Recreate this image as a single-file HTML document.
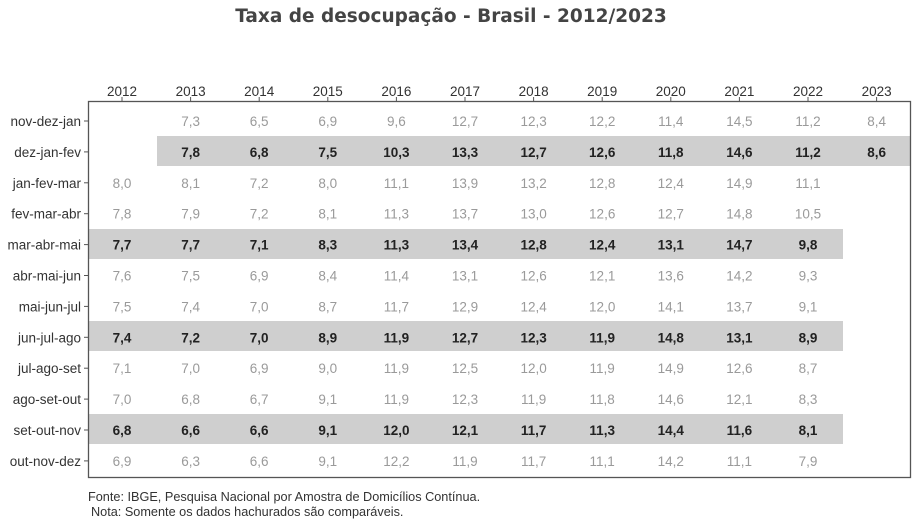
<!DOCTYPE html>
<html><head><meta charset="utf-8"><style>body{margin:0;background:#fff}svg{display:block}</style></head><body>
<svg width="921" height="528" xmlns="http://www.w3.org/2000/svg" font-family="Liberation Sans, Arial, sans-serif">
<text x="451" y="22" text-anchor="middle" font-size="18.5" font-weight="bold" fill="#444" font-family="DejaVu Sans, sans-serif">Taxa de desocupação - Brasil - 2012/2023</text>
<g fill="#cfcfcf">
<rect x="157" y="136" width="754" height="30"/>
<rect x="89" y="229" width="754" height="30"/>
<rect x="89" y="321" width="754" height="30"/>
<rect x="89" y="414" width="754" height="30"/>
</g>
<rect x="88.5" y="101.5" width="822" height="376" fill="none" stroke="#555" stroke-width="1.3"/>
<g id="hdr" font-size="13.5" fill="#333" text-anchor="middle"></g>
<g id="rows" font-size="13.5"></g>
<text x="88" y="501" font-size="12.7" fill="#333">Fonte: IBGE, Pesquisa Nacional por Amostra de Domicílios Contínua.</text>
<text x="91" y="516" font-size="12.7" fill="#333">Nota: Somente os dados hachurados são comparáveis.</text>
<script>
var ns="http://www.w3.org/2000/svg";
function el(p,t,a,txt){var e=document.createElementNS(ns,t);for(var k in a)e.setAttribute(k,a[k]);if(txt!=null)e.textContent=txt;p.appendChild(e);return e;}
var svg=document.querySelector('svg');
var hdr=document.getElementById('hdr'),rows=document.getElementById('rows');
function cx(i){return 122+i*68.6;}
for(var i=0;i<12;i++){el(hdr,'text',{x:cx(i),y:96},2012+i);el(svg,'line',{x1:cx(i),x2:cx(i),y1:97,y2:101,stroke:'#555'});}
var labels=["nov-dez-jan","dez-jan-fev","jan-fev-mar","fev-mar-abr","mar-abr-mai","abr-mai-jun","mai-jun-jul","jun-jul-ago","jul-ago-set","ago-set-out","set-out-nov","out-nov-dez"];
var data=[
["","7,3","6,5","6,9","9,6","12,7","12,3","12,2","11,4","14,5","11,2","8,4"],
["","7,8","6,8","7,5","10,3","13,3","12,7","12,6","11,8","14,6","11,2","8,6"],
["8,0","8,1","7,2","8,0","11,1","13,9","13,2","12,8","12,4","14,9","11,1",""],
["7,8","7,9","7,2","8,1","11,3","13,7","13,0","12,6","12,7","14,8","10,5",""],
["7,7","7,7","7,1","8,3","11,3","13,4","12,8","12,4","13,1","14,7","9,8",""],
["7,6","7,5","6,9","8,4","11,4","13,1","12,6","12,1","13,6","14,2","9,3",""],
["7,5","7,4","7,0","8,7","11,7","12,9","12,4","12,0","14,1","13,7","9,1",""],
["7,4","7,2","7,0","8,9","11,9","12,7","12,3","11,9","14,8","13,1","8,9",""],
["7,1","7,0","6,9","9,0","11,9","12,5","12,0","11,9","14,9","12,6","8,7",""],
["7,0","6,8","6,7","9,1","11,9","12,3","11,9","11,8","14,6","12,1","8,3",""],
["6,8","6,6","6,6","9,1","12,0","12,1","11,7","11,3","14,4","11,6","8,1",""],
["6,9","6,3","6,6","9,1","12,2","11,9","11,7","11,1","14,2","11,1","7,9",""]];
var bold=[1,4,7,10];
for(var r=0;r<12;r++){var y=121+r*30.9;
el(rows,'text',{x:81,y:y+5,'text-anchor':'end',fill:'#333'},labels[r]);
el(svg,'line',{x1:84,x2:88,y1:y,y2:y,stroke:'#555'});
var b=bold.indexOf(r)>=0;
for(var c=0;c<12;c++){if(data[r][c])el(rows,'text',{x:cx(c),y:y+5,'text-anchor':'middle',fill:b?'#222':'#9a9a9a','font-weight':b?'bold':'normal'},data[r][c]);}}
</script>
</svg>
</body></html>
